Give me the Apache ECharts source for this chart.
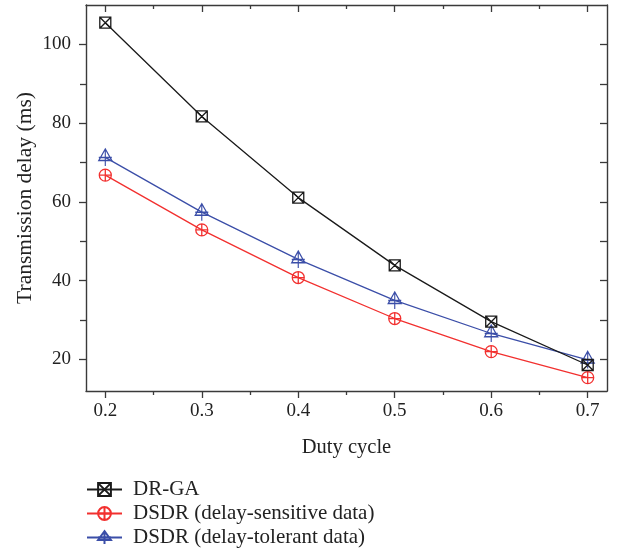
<!DOCTYPE html>
<html>
<head>
<meta charset="utf-8">
<script src="https://cdn.jsdelivr.net/npm/echarts@6/dist/echarts.min.js"></script>
<style>html,body{margin:0;padding:0;background:#fff;}#c{width:621px;height:559px;}</style>
</head>
<body>
<div id="c"></div>
<script>
var dutyCycle = [0.2, 0.3, 0.4, 0.5, 0.6, 0.7];
var drGA = [105.5, 81.7, 61.1, 43.9, 29.6, 18.6];
var dsdrSensitive = [66.8, 52.9, 40.8, 30.4, 22.0, 15.4];
var dsdrTolerant = [71.3, 57.4, 45.4, 35.0, 26.6, 19.9];
var seriesNames = ['DR-GA', 'DSDR (delay-sensitive data)', 'DSDR (delay-tolerant data)'];
var xMajor = [0.2, 0.3, 0.4, 0.5, 0.6, 0.7];
var xMinor = [0.25, 0.35, 0.45, 0.55, 0.65];
var yMajor = [20, 40, 60, 80, 100];
var yMinor = [30, 50, 70, 90];

var FONT = '"Liberation Serif", "DejaVu Serif", serif';
var AXC = '#3a3a3a';
var chart = echarts.init(document.getElementById('c'), null, {renderer: 'canvas'});

function pairs(ys) { return dutyCycle.map(function (x, i) { return [x, ys[i]]; }); }

function xAx(pos, vals, len, inside, labels, line, name) {
  return {
    type: 'value', position: pos, min: 0.18, max: 0.72,
    axisLine: {show: line, onZero: false, lineStyle: {color: AXC, width: 1.4}},
    axisTick: {show: true, customValues: vals, length: len, inside: inside, lineStyle: {color: AXC, width: 1.3}},
    axisLabel: labels ? {show: true, customValues: vals, margin: 11, fontFamily: FONT, fontSize: 19, color: '#222',
      formatter: function (v) { return v.toFixed(1); }} : {show: false},
    splitLine: {show: false},
    name: name || '', nameLocation: 'middle', nameGap: 46, nameMoveOverlap: false,
    nameTextStyle: {fontFamily: FONT, fontSize: 20.5, color: '#222'}
  };
}
function yAx(pos, vals, len, inside, labels, line, name) {
  return {
    type: 'value', position: pos, min: 12, max: 110,
    axisLine: {show: line, onZero: false, lineStyle: {color: AXC, width: 1.4}},
    axisTick: {show: true, customValues: vals, length: len, inside: inside, lineStyle: {color: AXC, width: 1.3}},
    axisLabel: labels ? {show: true, customValues: vals, margin: 15, fontFamily: FONT, fontSize: 19, color: '#222'} : {show: false},
    splitLine: {show: false},
    name: name || '', nameLocation: 'middle', nameGap: 50, nameMoveOverlap: false,
    nameTextStyle: {fontFamily: FONT, fontSize: 21.5, color: '#222'}
  };
}

var symSquare = 'path://M0,0 L10,0 L10,10 L0,10 Z M0,0 L10,10 M10,0 L0,10';
var symCircle = 'path://M5,0 A5,5 0 1,1 5,10 A5,5 0 1,1 5,0 Z M0,5 L10,5 M5,0 L5,10';
var symTri = 'path://M6,0 L12,11 L0,11 Z M6,0 L6,16 M0,8 L12,8';

var colors = ['#1a1a1a', '#f2302f', '#3b4ea8'];
var symbols = [symSquare, symCircle, symTri];
var sizes = [[11, 11], [12, 12], [13, 17]];
var datas = [drGA, dsdrSensitive, dsdrTolerant];

var series = datas.map(function (d, i) {
  return {
    name: seriesNames[i], type: 'line', data: pairs(d),
    xAxisIndex: 0, yAxisIndex: 0,
    symbol: symbols[i], symbolSize: sizes[i], showAllSymbol: true,
    symbolKeepAspect: false,
    lineStyle: {color: colors[i], width: 1.3},
    itemStyle: {color: 'rgba(255,255,255,0)', borderColor: colors[i], borderWidth: 1.3},
    emphasis: {disabled: true}, animation: false, z: 3 - i + 2
  };
});

chart.setOption({
  animation: false,
  backgroundColor: '#fff',
  grid: {left: 86, right: 14, top: 5, bottom: 168, containLabel: false},
  xAxis: [
    xAx('bottom', xMajor, 7, false, true, true, 'Duty cycle'),
    xAx('bottom', xMinor, 4, false, false, false),
    xAx('top', xMajor, 7, true, false, true),
    xAx('top', xMinor, 4, true, false, false)
  ],
  yAxis: [
    yAx('left', yMajor, 7, false, true, true, 'Transmission delay (ms)'),
    yAx('left', yMinor, 6, false, false, false),
    yAx('right', yMajor, 7, true, false, true),
    yAx('right', yMinor, 7, true, false, false)
  ],
  legend: {
    orient: 'vertical', left: 81, top: 474, itemGap: 3,
    itemWidth: 35, itemHeight: 16,
    textStyle: {fontFamily: FONT, fontSize: 21, color: '#222', padding: [0, 0, 0, 6]},
    data: seriesNames
  },
  series: series
});
</script>
</body>
</html>
